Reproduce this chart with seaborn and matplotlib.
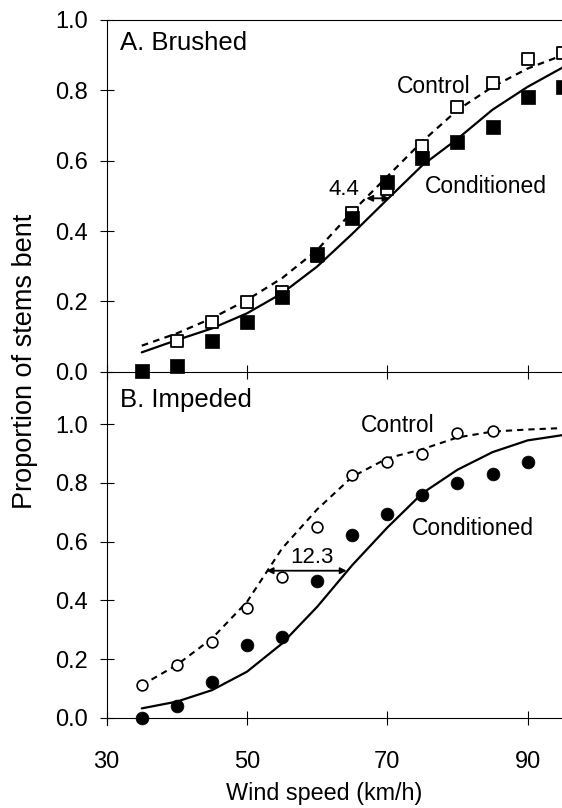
import matplotlib
matplotlib.use("Agg")
import matplotlib.pyplot as plt
import seaborn as sns
import numpy as np

# ---------------- data ----------------
wind = [35, 40, 45, 50, 55, 60, 65, 70, 75, 80, 85, 90, 95]

# A. Brushed
brushed_cond_x = [35, 40, 45, 50, 55, 60, 65, 70, 75, 80, 85, 90, 95]
brushed_cond = [0.003, 0.016, 0.087, 0.142, 0.211, 0.335, 0.436, 0.540, 0.607, 0.654, 0.697, 0.780, 0.809]
brushed_ctrl_x = [40, 45, 50, 55, 60, 65, 70, 75, 80, 85, 90, 95]
brushed_ctrl = [0.087, 0.142, 0.197, 0.226, 0.330, 0.450, 0.520, 0.643, 0.753, 0.822, 0.888, 0.905]
brushed_cond_fit = [0.055, 0.090, 0.123, 0.166, 0.223, 0.299, 0.392, 0.490, 0.587, 0.662, 0.745, 0.810, 0.865]
brushed_ctrl_fit = [0.074, 0.109, 0.152, 0.204, 0.266, 0.346, 0.455, 0.555, 0.655, 0.744, 0.810, 0.862, 0.900]

# B. Impeded
impeded_cond_x = [35, 40, 45, 50, 55, 60, 65, 70, 75, 80, 85, 90]
impeded_cond = [0.0, 0.040, 0.123, 0.248, 0.276, 0.467, 0.622, 0.694, 0.759, 0.800, 0.829, 0.872]
impeded_ctrl_x = [35, 40, 45, 50, 55, 60, 65, 70, 75, 80, 85]
impeded_ctrl = [0.111, 0.180, 0.259, 0.373, 0.480, 0.651, 0.827, 0.872, 0.898, 0.969, 0.978]
impeded_cond_fit = [0.032, 0.055, 0.094, 0.157, 0.253, 0.378, 0.520, 0.648, 0.765, 0.845, 0.905, 0.945, 0.963]
impeded_ctrl_fit = [0.111, 0.180, 0.270, 0.395, 0.577, 0.710, 0.821, 0.884, 0.915, 0.955, 0.975, 0.982, 0.987]

x_ticks = [30, 50, 70, 90]
y_ticks = [0.0, 0.2, 0.4, 0.6, 0.8, 1.0]
y_tick_labels = ["0.0", "0.2", "0.4", "0.6", "0.8", "1.0"]

# ---------------- style ----------------
sns.set_style("ticks")
plt.rcParams["font.family"] = ["Liberation Sans", "DejaVu Sans"]
plt.rcParams["axes.linewidth"] = 0.8
for k in ["text.color", "axes.labelcolor", "xtick.color", "ytick.color",
          "axes.edgecolor"]:
    plt.rcParams[k] = "black"

W, H = 562, 808
fig = plt.figure(figsize=(W / 100, H / 100), dpi=100)

left = 106.7 / W
width = 1 - left
ax2 = fig.add_axes([left, (H - 725.4) / H, width, (725.4 - 371.7) / H])
ax1 = fig.add_axes([left, (H - 371.7) / H, width, 351.7 / H])

DASH = (0, (3.0, 2.4))

for ax in (ax1, ax2):
    ax.patch.set_visible(False)
    ax.set_xlim(30, 94.9)
    ax.set_xticks(x_ticks)
    ax.set_yticks(y_ticks)
    ax.set_yticklabels(y_tick_labels)
    ax.tick_params(direction="inout", length=9.5, width=0.8, colors="black",
                   labelsize=17)
    ax.tick_params(axis="y", pad=9.0)
    ax.tick_params(axis="x", pad=19)
    ax.spines["right"].set_visible(False)
    for s in ax.spines.values():
        s.set_color("black")
        s.set_linewidth(0.8)

ax1.set_ylim(0, 1.0)
ax1.tick_params(axis="x", labelbottom=False)
ax2.set_ylim(-0.026, 1.179)
ax2.spines["top"].set_visible(False)
ax2.spines["bottom"].set_position(("data", 0))

# ---------------- panel A ----------------
sns.lineplot(x=wind, y=brushed_ctrl_fit, ax=ax1, color="black", lw=1.6,
             linestyle=DASH, estimator=None, sort=False, legend=False, zorder=2)
sns.lineplot(x=wind, y=brushed_cond_fit, ax=ax1, color="black", lw=1.6,
             estimator=None, sort=False, legend=False, zorder=2)
sns.scatterplot(x=brushed_ctrl_x, y=brushed_ctrl, ax=ax1, marker="s", s=80,
                color="white", edgecolor="black", linewidth=1.3, zorder=4,
                clip_on=False, legend=False)
sns.scatterplot(x=brushed_cond_x, y=brushed_cond, ax=ax1, marker="s", s=90,
                color="black", edgecolor="black", linewidth=0.5, zorder=5,
                clip_on=False, legend=False)

ax1.text(76.6, 0.7925, "Control", ha="center", va="baseline", fontsize=16.5)
ax1.text(84.05, 0.508, "Conditioned", ha="center", va="baseline", fontsize=16.5)
ax1.text(63.8, 0.502, "4.4", ha="center", va="baseline", fontsize=16)
ax1.annotate("", xy=(70.3, 0.493), xytext=(67.0, 0.493),
             arrowprops=dict(arrowstyle="<|-|>", lw=1.3, color="black",
                             mutation_scale=9, shrinkA=0, shrinkB=0), zorder=6)
ax1.set_xlabel("")
ax1.set_ylabel("")

# ---------------- panel B ----------------
sns.lineplot(x=wind, y=impeded_ctrl_fit, ax=ax2, color="black", lw=1.5,
             linestyle=DASH, estimator=None, sort=False, legend=False, zorder=2)
sns.lineplot(x=wind, y=impeded_cond_fit, ax=ax2, color="black", lw=1.6,
             estimator=None, sort=False, legend=False, zorder=2)
sns.scatterplot(x=impeded_ctrl_x, y=impeded_ctrl, ax=ax2, marker="o", s=60,
                color="white", edgecolor="black", linewidth=1.2, zorder=4,
                clip_on=False, legend=False)
sns.scatterplot(x=impeded_cond_x, y=impeded_cond, ax=ax2, marker="o", s=85,
                color="black", edgecolor="black", linewidth=0.5, zorder=5,
                clip_on=False, legend=False)

ax2.text(71.5, 0.974, "Control", ha="center", va="baseline", fontsize=16.5)
ax2.text(82.25, 0.6225, "Conditioned", ha="center", va="baseline", fontsize=16.5)
ax2.text(59.2, 0.526, "12.3", ha="center", va="baseline", fontsize=16)
ax2.annotate("", xy=(64.2, 0.501), xytext=(52.8, 0.501),
             arrowprops=dict(arrowstyle="<|-|>", lw=1.3, color="black",
                             mutation_scale=9, shrinkA=0, shrinkB=0), zorder=6)
ax2.set_xlabel("")
ax2.set_ylabel("")

# ---------------- titles and axis labels ----------------
fig.text(120 / W, 1 - 50.5 / H, "A. Brushed", ha="left", va="baseline", fontsize=18.5)
fig.text(120 / W, 1 - 406.7 / H, "B. Impeded", ha="left", va="baseline", fontsize=18.5)
fig.text(324 / W, 1 - 800 / H, "Wind speed (km/h)", ha="center", va="baseline", fontsize=16.8)
fig.text(25 / W, 1 - 361 / H, "Proportion of stems bent", ha="center", va="center",
         rotation=90, fontsize=19.5)

fig.savefig("out.png", dpi=100)
